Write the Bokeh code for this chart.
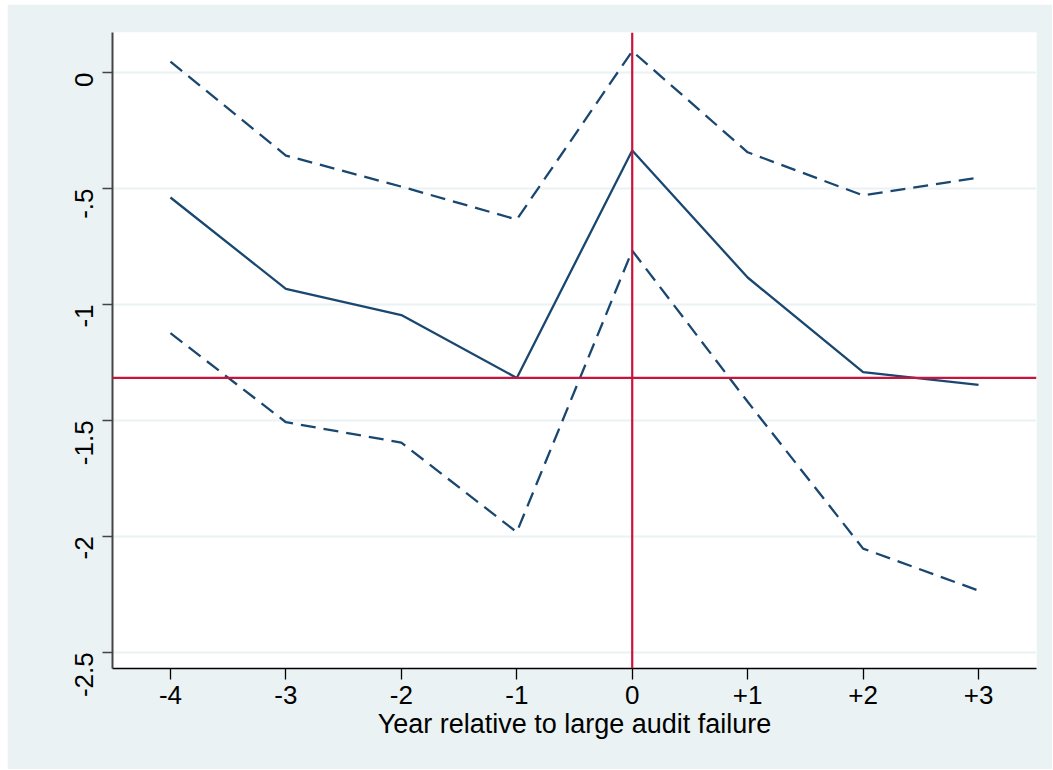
import math
from bokeh.plotting import figure
from bokeh.models import Span, FixedTicker, Range1d
from bokeh.embed import file_html
from bokeh.resources import INLINE

years = [-4, -3, -2, -1, 0, 1, 2, 3]
year_labels = ["-4", "-3", "-2", "-1", "0", "+1", "+2", "+3"]
estimate = [-0.539, -0.933, -1.046, -1.317, -0.336, -0.884, -1.292, -1.347]
upper_ci = [0.047, -0.358, -0.492, -0.634, 0.092, -0.344, -0.530, -0.453]
lower_ci = [-1.124, -1.508, -1.596, -1.982, -0.768, -1.420, -2.053, -2.234]
y_ticks = [0, -0.5, -1, -1.5, -2, -2.5]
y_tick_labels = ["0", "-.5", "-1", "-1.5", "-2", "-2.5"]
x_title = "Year relative to large audit failure"

NAVY = "#1A476F"
RED = "#C8143C"
BG = "#EAF2F3"
FONT = "Liberation Sans"

p = figure(width=1045, height=765, output_backend="svg", toolbar_location=None,
           x_range=Range1d(-4.502, 3.502), y_range=Range1d(-2.570, 0.1725),
           min_border_left=105, min_border_right=16, min_border_top=28, min_border_bottom=101)
p.margin = (4, 0, 0, 7)

p.background_fill_color = "white"
p.border_fill_color = BG
p.outline_line_color = None

p.xgrid.grid_line_color = None
p.ygrid.grid_line_color = BG
p.ygrid.grid_line_width = 2

# Lines
p.line(years, upper_ci, line_color=NAVY, line_width=2.3, line_dash="15 8")
p.line(years, lower_ci, line_color=NAVY, line_width=2.3, line_dash="15 8")
p.line(years, estimate, line_color=NAVY, line_width=2.3)

ref_y = estimate[years.index(-1)]
p.add_layout(Span(location=ref_y, dimension="width", line_color=RED, line_width=2.2))
p.add_layout(Span(location=0, dimension="height", line_color=RED, line_width=2.2))

# X axis
p.xaxis.ticker = FixedTicker(ticks=years)
p.xaxis.major_label_overrides = {y: l for y, l in zip(years, year_labels)}
p.xaxis.axis_label = x_title
p.xaxis.axis_label_text_font = FONT
p.xaxis.axis_label_text_font_style = "normal"
p.xaxis.axis_label_text_font_size = "27px"
p.xaxis.axis_label_text_color = "black"
p.xaxis.axis_label_standoff = 2
p.xaxis.major_label_text_font = FONT
p.xaxis.major_label_text_font_size = "26px"
p.xaxis.major_label_text_color = "black"
p.xaxis.major_label_standoff = 6
p.xaxis.axis_line_color = "black"
p.xaxis.axis_line_width = 1.5
p.xaxis.major_tick_line_color = "black"
p.xaxis.major_tick_line_width = 1.3
p.xaxis.major_tick_out = 11
p.xaxis.major_tick_in = 0
p.xaxis.minor_tick_line_color = None

# Y axis
p.yaxis.ticker = FixedTicker(ticks=y_ticks)
p.yaxis.major_label_overrides = {t: l for t, l in zip(y_ticks, y_tick_labels)}
p.yaxis.major_label_orientation = math.pi / 2
p.yaxis.major_label_text_font = FONT
p.yaxis.major_label_text_font_size = "26px"
p.yaxis.major_label_text_color = "black"
p.yaxis.major_label_standoff = 18
p.yaxis.axis_line_color = "#444444"
p.yaxis.axis_line_width = 2
p.yaxis.major_tick_line_color = "#444444"
p.yaxis.major_tick_line_width = 1.3
p.yaxis.major_tick_out = 10
p.yaxis.major_tick_in = 0
p.yaxis.minor_tick_line_color = None

open("out.html", "w").write(file_html(p, INLINE))
